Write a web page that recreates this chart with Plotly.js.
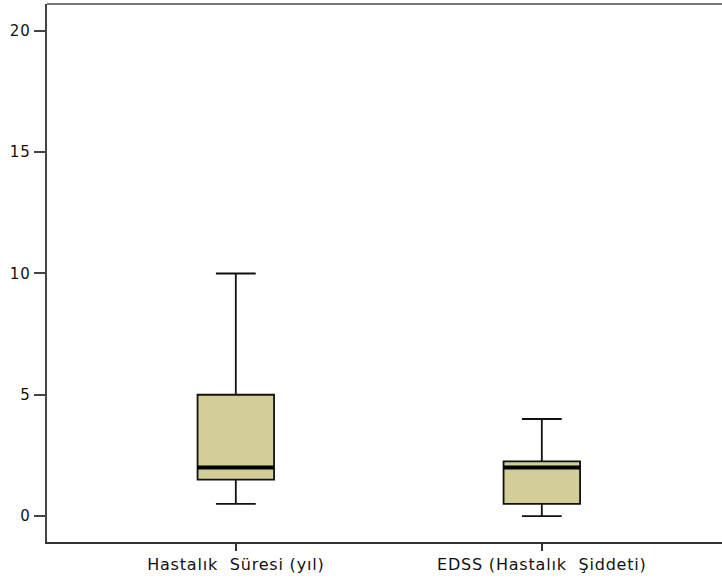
<!DOCTYPE html>
<html>
<head>
<meta charset="utf-8">
<script src="https://cdn.plot.ly/plotly-3.0.1.min.js"></script>
<style>
  html, body { margin: 0; padding: 0; background: #fff; overflow: hidden; }
  #wrap { width: 722px; height: 583px; overflow: hidden; position: relative; }
  #chart { width: 760px; height: 583px; }
  /* slightly spaced tick lettering */
  #chart .xtick text, #chart .ytick text { letter-spacing: 0.8px; }
</style>
</head>
<body>
<div id="wrap"><div id="chart"></div></div>
<script>
// Box plot summaries for the two variables
const categories = ['Hastalık  Süresi (yıl)', 'EDSS (Hastalık  Şiddeti)'];
const lowerWhisker = [0.5, 0];
const q1Values = [1.5, 0.5];
const medianValues = [2, 2];
const q3Values = [5, 2.25];
const upperWhisker = [10, 4];
const yTickValues = [0, 5, 10, 15, 20];

const boxWidth = 0.25;       // in category units
const fillColour = '#D3CE97';

const trace = {
  type: 'box',
  x: categories,
  q1: q1Values,
  median: medianValues,
  q3: q3Values,
  lowerfence: lowerWhisker,
  upperfence: upperWhisker,
  width: boxWidth,
  whiskerwidth: 0.52,
  fillcolor: fillColour,
  line: { color: '#111', width: 1.8 },
  boxpoints: false,
  hoverinfo: 'skip',
  showlegend: false
};

// Thick median bars drawn over each box
const medianShapes = categories.map((c, i) => ({
  type: 'line',
  xref: 'x', yref: 'y',
  x0: i - boxWidth / 2, x1: i + boxWidth / 2,
  y0: medianValues[i], y1: medianValues[i],
  line: { color: '#000', width: 4 }
}));

// The plotting area runs on past the right edge of the visible frame
const layout = {
  width: 760,
  height: 583,
  margin: { l: 47, r: 0, t: 4, b: 41, pad: 0 },
  paper_bgcolor: '#fff',
  plot_bgcolor: '#fff',
  font: { family: 'DejaVu Sans, Verdana, sans-serif', size: 15, color: '#111' },
  xaxis: {
    type: 'category',
    range: [-0.617, 1.713],
    showline: true,
    linecolor: '#333',
    linewidth: 2,
    mirror: false,
    ticks: 'outside',
    ticklen: 7,
    tickwidth: 1.5,
    tickcolor: '#333',
    tickfont: { size: 16 },
    showgrid: false,
    zeroline: false,
    fixedrange: true
  },
  yaxis: {
    range: [-1.07, 21.11],
    tickvals: yTickValues,
    ticktext: yTickValues.map(String),
    showline: true,
    linecolor: '#444',
    linewidth: 2.5,
    mirror: false,
    ticks: 'outside',
    ticklen: 11,
    tickwidth: 2,
    tickcolor: '#444',
    tickfont: { size: 15 },
    showgrid: false,
    zeroline: false,
    fixedrange: true
  },
  shapes: [
    // top frame line
    { type: 'line', xref: 'paper', yref: 'paper', x0: 0, x1: 1, y0: 1, y1: 1,
      line: { color: '#777', width: 2 } }
  ].concat(medianShapes)
};

Plotly.newPlot('chart', [trace], layout, { staticPlot: true, displayModeBar: false });
</script>
</body>
</html>
